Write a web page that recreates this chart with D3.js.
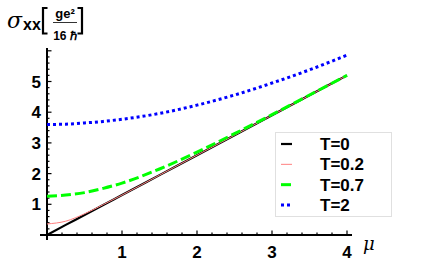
<!DOCTYPE html>
<html lang="en">
<head>
<meta charset="UTF-8">
<title>sigma_xx vs mu</title>
<script src="https://d3js.org/d3.v7.min.js"></script>
<style>
    body { margin: 0; background: white; }
    svg { display: block; }
    text { font-family: "Liberation Sans", Arial, sans-serif; }
    .tick-label { font-size: 17px; font-weight: bold; }
    .legend-label { font-size: 17px; font-weight: bold; }
</style>
</head>
<body>
<svg id="canvas" width="436" height="272"></svg>
<script>
// values
let mu = [0, 0.25, 0.5, 0.75, 1, 1.5, 2, 2.5, 3, 3.5, 4];
let sigmaT0   = [0, 0.33, 0.65, 0.98, 1.30, 1.95, 2.60, 3.25, 3.90, 4.55, 5.20];
let sigmaT02  = [0.36, 0.45, 0.69, 0.99, 1.30, 1.95, 2.60, 3.25, 3.90, 4.55, 5.20];
let sigmaT07  = [1.26, 1.30, 1.38, 1.52, 1.69, 2.15, 2.70, 3.30, 3.92, 4.56, 5.20];
let sigmaT2   = [3.60, 3.61, 3.65, 3.70, 3.77, 3.96, 4.23, 4.56, 4.95, 5.38, 5.86];
let seriesNames = ['T=0', 'T=0.2', 'T=0.7', 'T=2'];
let xTicks = [1, 2, 3, 4];
let yTicks = [1, 2, 3, 4, 5];

let svg = d3.select('#canvas');

let x = d3.scaleLinear().domain([0, 4]).range([47, 347]);
let y = d3.scaleLinear().domain([0, 5]).range([235, 81.5]);

// series styles (Mathematica-like)
let styles = [
    {color: 'black',   width: 2.2, dash: null},
    {color: '#ff8080', width: 1,   dash: null},
    {color: '#00ff00', width: 3,   dash: '10,4'},
    {color: '#0000ff', width: 3,   dash: '3,3'}
];
let allSeries = [sigmaT0, sigmaT02, sigmaT07, sigmaT2];

// axes
let axes = svg.append('g');
axes.append('line')
    .attr('x1', 40).attr('x2', 352)
    .attr('y1', y(0)).attr('y2', y(0))
    .attr('stroke', 'black').attr('stroke-width', 2);
axes.append('line')
    .attr('x1', x(0)).attr('x2', x(0))
    .attr('y1', 240).attr('y2', 48)
    .attr('stroke', 'black').attr('stroke-width', 2);

// minor + major ticks
let xMinor = d3.range(0.2, 4.01, 0.2);
axes.selectAll('line.xt')
    .data(xMinor)
    .enter().append('line')
    .attr('class', 'xt')
    .attr('x1', d => x(d)).attr('x2', d => x(d))
    .attr('y1', y(0))
    .attr('y2', d => y(0) - (Math.abs(d - Math.round(d)) < 0.01 ? 4.5 : 2.5))
    .attr('stroke', 'black').attr('stroke-width', 1.2);
let yMinor = d3.range(0.2, 6.01, 0.2);
axes.selectAll('line.yt')
    .data(yMinor)
    .enter().append('line')
    .attr('class', 'yt')
    .attr('y1', d => y(d)).attr('y2', d => y(d))
    .attr('x1', x(0))
    .attr('x2', d => x(0) + (Math.abs(d - Math.round(d)) < 0.01 ? 4.5 : 2.5))
    .attr('stroke', 'black').attr('stroke-width', 1.2);

axes.selectAll('text.xl')
    .data(xTicks)
    .enter().append('text')
    .attr('class', 'tick-label xl')
    .attr('x', d => x(d))
    .attr('y', 258)
    .attr('text-anchor', 'middle')
    .text(d => d);
axes.selectAll('text.yl')
    .data(yTicks)
    .enter().append('text')
    .attr('class', 'tick-label yl')
    .attr('x', 41)
    .attr('y', d => y(d) + 6)
    .attr('text-anchor', 'end')
    .text(d => d);

// curves
let line = d3.line()
    .x((d, i) => x(mu[i]))
    .y(d => y(d))
    .curve(d3.curveMonotoneX);

svg.append('g').selectAll('path')
    .data(allSeries)
    .enter().append('path')
    .attr('d', line)
    .attr('fill', 'none')
    .attr('stroke', (d, i) => styles[i].color)
    .attr('stroke-width', (d, i) => styles[i].width)
    .attr('stroke-dasharray', (d, i) => styles[i].dash);

// axis labels
svg.append('text')
    .attr('x', 363).attr('y', 250)
    .style('font-family', '"DejaVu Serif", serif')
    .style('font-style', 'italic')
    .style('font-size', '18px')
    .text('μ');

let title = svg.append('g');
title.append('text')
    .attr('x', 7).attr('y', 28)
    .style('font-family', '"DejaVu Serif", serif')
    .style('font-style', 'italic')
    .style('font-size', '22px')
    .text('σ');
title.append('text')
    .attr('x', 23).attr('y', 30)
    .style('font-size', '16px').style('font-weight', 'bold')
    .text('xx');
// brackets drawn as paths
title.append('path')
    .attr('d', 'M47.5,8 H43 V33.5 H47.5')
    .attr('fill', 'none').attr('stroke', 'black').attr('stroke-width', 2.2);
title.append('path')
    .attr('d', 'M77.5,8 H82 V33.5 H77.5')
    .attr('fill', 'none').attr('stroke', 'black').attr('stroke-width', 2.2);
title.append('text')
    .attr('x', 65).attr('y', 18)
    .attr('text-anchor', 'middle')
    .style('font-size', '13px').style('font-weight', 'bold')
    .text('ge²');
title.append('line')
    .attr('x1', 53).attr('x2', 77)
    .attr('y1', 22.5).attr('y2', 22.5)
    .attr('stroke', '#333').attr('stroke-width', 1);
title.append('text')
    .attr('x', 65).attr('y', 40)
    .attr('text-anchor', 'middle')
    .style('font-size', '12px').style('font-weight', 'bold')
    .text('16 ℏ');

// legend
let legend = svg.append('g');
legend.append('rect')
    .attr('x', 275.5).attr('y', 132.5)
    .attr('width', 116).attr('height', 84)
    .attr('fill', 'white')
    .attr('stroke', '#e0e0e0').attr('stroke-width', 1);
let rowY = d3.scaleLinear().domain([0, 3]).range([144, 205]);
legend.selectAll('line.sw')
    .data(seriesNames)
    .enter().append('line')
    .attr('class', 'sw')
    .attr('x1', 281).attr('x2', 292)
    .attr('y1', (d, i) => rowY(i)).attr('y2', (d, i) => rowY(i))
    .attr('stroke', (d, i) => styles[i].color)
    .attr('stroke-width', (d, i) => styles[i].width)
    .attr('stroke-dasharray', (d, i) => styles[i].dash);
legend.selectAll('text.lg')
    .data(seriesNames)
    .enter().append('text')
    .attr('class', 'legend-label lg')
    .attr('x', 320)
    .attr('y', (d, i) => rowY(i) + 6)
    .text(d => d);
</script>
</body>
</html>
